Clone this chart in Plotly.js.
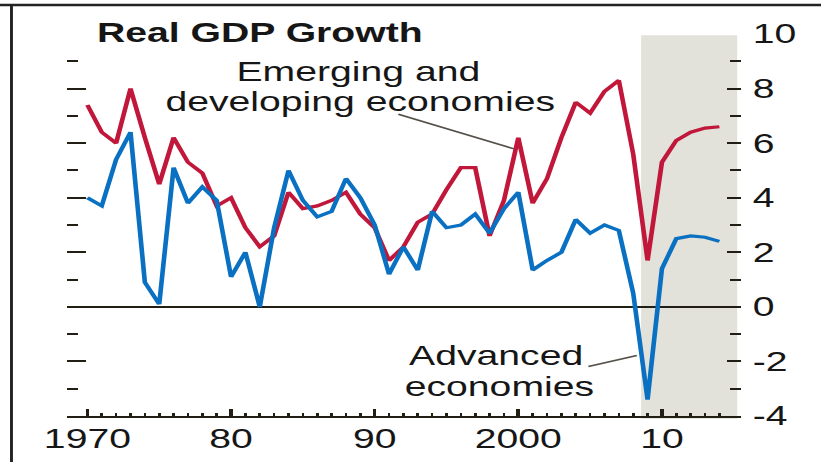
<!DOCTYPE html>
<html>
<head>
<meta charset="utf-8">
<script src="https://cdn.plot.ly/plotly-3.0.1.min.js"></script>
<style>
  html, body { margin: 0; padding: 0; background: #ffffff; overflow: hidden; width: 821px; height: 462px; }
  #wrap { position: relative; width: 821px; height: 462px; overflow: hidden; background: #ffffff; }
  #chart { position: absolute; left: 0; top: 0; width: 566px; height: 462px; transform: scaleX(1.45053); transform-origin: 0 0; }
</style>
</head>
<body>
<div id="wrap"><div id="chart"></div></div>
<script>
// ---- Data ----
const years = [1970,1971,1972,1973,1974,1975,1976,1977,1978,1979,
               1980,1981,1982,1983,1984,1985,1986,1987,1988,1989,
               1990,1991,1992,1993,1994,1995,1996,1997,1998,1999,
               2000,2001,2002,2003,2004,2005,2006,2007,2008,2009,
               2010,2011,2012,2013,2014];
const emerging = [7.4,6.4,6.0,8.0,6.2,4.5,6.2,5.3,4.9,3.7,
                  4.0,2.9,2.2,2.6,4.2,3.6,3.7,3.9,4.2,3.4,
                  2.9,1.7,2.2,3.1,3.4,4.3,5.1,5.1,2.6,3.9,
                  6.2,3.8,4.7,6.2,7.5,7.1,7.9,8.3,5.6,1.7,
                  5.3,6.1,6.4,6.55,6.6];
const advanced = [4.0,3.7,5.4,6.4,0.9,0.1,5.1,3.8,4.4,3.9,
                  1.1,2.0,0.0,2.9,5.0,3.9,3.3,3.5,4.7,4.0,
                  3.0,1.2,2.2,1.35,3.5,2.9,3.0,3.4,2.7,3.6,
                  4.2,1.35,1.7,2.0,3.2,2.7,3.0,2.8,0.5,-3.4,
                  1.4,2.5,2.6,2.55,2.4];
const xTickVals = [1970,1975,1980,1985,1990,1995,2000,2005,2010];
const xTickText = ['1970','','80','','90','','2000','','10'];
const yTickVals = [-4,-2,0,2,4,6,8,10];
const yTickText = ['-4','-2','0','2','4','6','8','10'];
const yMinorVals = [-3,-1,1,3,5,7,9];
const titleText = 'Real GDP Growth';
const labelEmerging = ['Emerging and','developing economies'];
const labelAdvanced = ['Advanced','economies'];

// ---- Styling ----
const ink = '#221e14';
const textInk = '#161616';
const fontFam = '"Liberation Sans", Arial, sans-serif';
const yRange = [-4, 10];

const traces = [
  { x: years, y: emerging, type: 'scatter', mode: 'lines', name: 'Emerging and developing economies',
    xaxis: 'x', yaxis: 'y',
    line: { color: '#c0173a', width: 3.2 }, hoverinfo: 'skip' },
  { x: years, y: advanced, type: 'scatter', mode: 'lines', name: 'Advanced economies',
    xaxis: 'x', yaxis: 'y2',
    line: { color: '#0a70c2', width: 3.2 }, hoverinfo: 'skip' }
];

const annFont = { family: fontFam, size: 27, color: textInk };

const layout = {
  width: 566, height: 462,
  margin: { l: 46, r: 55, t: 34, b: 46 },
  paper_bgcolor: '#ffffff', plot_bgcolor: 'rgba(0,0,0,0)',
  showlegend: false,
  title: {
    text: titleText,
    font: { family: fontFam, size: 27, weight: 700, color: textInk },
    x: 0.1182, xref: 'container', xanchor: 'left',
    y: 0.9286, yref: 'container', yanchor: 'middle'
  },
  xaxis: {
    range: [1968.56, 2015.52],
    tickmode: 'array', tickvals: xTickVals, ticktext: xTickText,
    ticks: 'inside', ticklen: 7, tickwidth: 2.5, tickcolor: ink,
    showline: true, linecolor: ink, linewidth: 2,
    showgrid: false, zeroline: false,
    tickfont: { family: fontFam, size: 27, color: textInk },
    ticklabelstandoff: -2,
    minor: { tickmode: 'array', tickvals: years, ticks: 'inside', ticklen: 3, tickwidth: 1.8, tickcolor: ink }
  },
  yaxis: {
    range: yRange, side: 'left',
    tickmode: 'array', tickvals: yTickVals,
    ticks: 'inside', ticklen: 13, tickwidth: 2, tickcolor: ink,
    showticklabels: false, showgrid: false, showline: false,
    zeroline: true, zerolinecolor: ink, zerolinewidth: 2,
    minor: { tickmode: 'array', tickvals: yMinorVals, ticks: 'inside', ticklen: 8, tickwidth: 2, tickcolor: ink }
  },
  yaxis2: {
    range: yRange, side: 'right', overlaying: 'y', anchor: 'x',
    tickmode: 'array', tickvals: yTickVals, ticktext: yTickText,
    ticks: 'inside', ticklen: 10, tickwidth: 2, tickcolor: ink,
    showgrid: false, zeroline: false, showline: false,
    tickfont: { family: fontFam, size: 27, color: textInk },
    ticklabelstandoff: 7,
    minor: { tickmode: 'array', tickvals: yMinorVals, ticks: 'inside', ticklen: 7.5, tickwidth: 2, tickcolor: ink }
  },
  shapes: [
    { type: 'rect', layer: 'below', xref: 'x', yref: 'paper',
      x0: 2008.55, x1: 2015.24, y0: -0.007, y1: 0.997,
      fillcolor: '#e2e1da', line: { width: 0 } },
    { type: 'line', xref: 'x', yref: 'y', x0: 1991.65, y0: 7.06, x1: 1999.71, y1: 5.79,
      line: { color: '#555049', width: 1.6 } },
    { type: 'line', xref: 'x', yref: 'y', x0: 2004.88, y0: -2.19, x1: 2008.25, y1: -1.78,
      line: { color: '#555049', width: 1.6 } },
    { type: 'line', xref: 'paper', yref: 'paper', x0: -0.0989, x1: 1.1183, y0: 1.0759, y1: 1.0759,
      line: { color: '#222222', width: 2.5 } },
    { type: 'line', xref: 'paper', yref: 'paper', x0: -0.0819, x1: -0.0819, y0: 1.0759, y1: -0.1204,
      line: { color: '#222222', width: 2 } }
  ],
  annotations: [
    { text: labelEmerging[0], xref: 'x', yref: 'y', x: 1988.82, y: 8.61, showarrow: false,
      xanchor: 'center', yanchor: 'middle', font: annFont },
    { text: labelEmerging[1], xref: 'x', yref: 'y', x: 1989.01, y: 7.49, showarrow: false,
      xanchor: 'center', yanchor: 'middle', font: annFont },
    { text: labelAdvanced[0], xref: 'x', yref: 'y', x: 1998.47, y: -1.81, showarrow: false,
      xanchor: 'center', yanchor: 'middle', font: annFont },
    { text: labelAdvanced[1], xref: 'x', yref: 'y', x: 1998.70, y: -2.94, showarrow: false,
      xanchor: 'center', yanchor: 'middle', font: annFont }
  ]
};

Plotly.newPlot('chart', traces, layout, { staticPlot: true, displayModeBar: false });
</script>
</body>
</html>
